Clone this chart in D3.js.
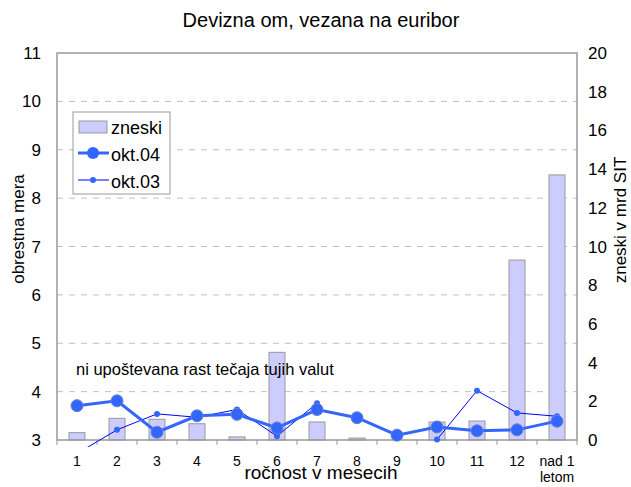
<!DOCTYPE html>
<html>
<head>
<meta charset="utf-8">
<script src="https://cdn.jsdelivr.net/npm/d3@7"></script>
<style>
  body { margin: 0; background: #fff; }
  text { font-family: "Liberation Sans", Arial, sans-serif; fill: #000; }
</style>
</head>
<body>
<svg id="chart" width="631" height="487"></svg>
<script>
const CATEGORIES = ['1', '2', '3', '4', '5', '6', '7', '8', '9', '10', '11', '12', 'nad 1|letom'];
const ZNESKI = [0.38, 1.12, 1.07, 0.84, 0.16, 4.53, 0.93, 0.1, 0, 0.93, 0.98, 9.3, 13.7];
const OKT04 = [3.71, 3.81, 3.16, 3.50, 3.53, 3.25, 3.63, 3.46, 3.10, 3.27, 3.19, 3.21, 3.39];
const OKT03 = [2.72, 3.21, 3.54, 3.47, 3.63, 3.08, 3.76, null, null, 3.01, 4.02, 3.56, 3.49];
const LEFT_TICKS = [3, 4, 5, 6, 7, 8, 9, 10, 11];
const RIGHT_TICKS = [0, 2, 4, 6, 8, 10, 12, 14, 16, 18, 20];

const M = { left: 57, right: 577, top: 53, bottom: 440 };

const svg = d3.select('#chart');

const x = d3.scaleBand()
  .domain(CATEGORIES)
  .range([M.left, M.right]);

const yL = d3.scaleLinear().domain([3, 11]).range([M.bottom, M.top]);
const yR = d3.scaleLinear().domain([0, 20]).range([M.bottom, M.top]);

// title
svg.append('text')
  .attr('x', 321).attr('y', 27)
  .attr('text-anchor', 'middle')
  .style('font-size', '20px')
  .text('Devizna om, vezana na euribor');

// gridlines (left axis)
svg.append('g')
  .selectAll('line')
  .data(LEFT_TICKS.slice(1, -1))
  .enter()
  .append('line')
  .attr('x1', M.left).attr('x2', M.right)
  .attr('y1', d => yL(d)).attr('y2', d => yL(d))
  .attr('stroke', '#c0c0c0')
  .attr('stroke-dasharray', '6,6');

// bars
const barW = 16;
svg.append('g')
  .selectAll('rect')
  .data(ZNESKI)
  .enter()
  .append('rect')
  .attr('x', (d, i) => x(CATEGORIES[i]) + x.bandwidth() / 2 - barW / 2)
  .attr('y', d => yR(d))
  .attr('width', barW)
  .attr('height', d => M.bottom - yR(d))
  .attr('fill', d => d > 0 ? '#ccccff' : 'none')
  .attr('stroke', d => d > 0 ? '#999999' : 'none')
  .attr('stroke-width', 1);

// annotation
svg.append('text')
  .attr('x', 76).attr('y', 375)
  .style('font-size', '16.5px')
  .text('ni upoštevana rast tečaja tujih valut');

// frame
svg.append('rect')
  .attr('x', M.left).attr('y', M.top)
  .attr('width', M.right - M.left).attr('height', M.bottom - M.top)
  .attr('fill', 'none')
  .attr('stroke', '#999999')
  .attr('stroke-width', 1.5);

// x ticks between categories
svg.append('g')
  .selectAll('line')
  .data(CATEGORIES)
  .enter()
  .append('line')
  .attr('x1', d => x(d)).attr('x2', d => x(d))
  .attr('y1', M.bottom).attr('y2', M.bottom + 5)
  .attr('stroke', '#999999');
svg.append('line')
  .attr('x1', M.right).attr('x2', M.right)
  .attr('y1', M.bottom).attr('y2', M.bottom + 5)
  .attr('stroke', '#999999');

// clip for lines (the reference lets the line go a little below the axis)
svg.append('clipPath').attr('id', 'clip')
  .append('rect')
  .attr('x', M.left).attr('y', M.top)
  .attr('width', M.right - M.left).attr('height', M.bottom - M.top + 7);

const cx = i => x(CATEGORIES[i]) + x.bandwidth() / 2;

// okt.03 thin line
const line03 = d3.line()
  .defined(d => d != null)
  .x((d, i) => cx(i))
  .y(d => yL(d));
const g03 = svg.append('g').attr('clip-path', 'url(#clip)');
g03.append('path')
  .attr('d', line03(OKT03))
  .attr('fill', 'none')
  .attr('stroke', '#0000ff')
  .attr('stroke-width', 1);

// okt.04 thick line
const line04 = d3.line()
  .x((d, i) => cx(i))
  .y(d => yL(d));
svg.append('path')
  .attr('d', line04(OKT04))
  .attr('fill', 'none')
  .attr('stroke', '#3366ff')
  .attr('stroke-width', 3);

svg.append('g')
  .selectAll('circle')
  .data(OKT04)
  .enter()
  .append('circle')
  .attr('cx', (d, i) => cx(i))
  .attr('cy', d => yL(d))
  .attr('r', 6)
  .attr('fill', '#3366ff')
  .attr('stroke', '#6680cc')
  .attr('stroke-width', 1);

g03.selectAll('circle')
  .data(OKT03.map((v, i) => ({ v, i })).filter(d => d.v != null && d.v >= 3))
  .enter()
  .append('circle')
  .attr('cx', d => cx(d.i))
  .attr('cy', d => yL(d.v))
  .attr('r', 3)
  .attr('fill', '#3366ff');

// left axis labels
svg.append('g')
  .selectAll('text')
  .data(LEFT_TICKS)
  .enter()
  .append('text')
  .attr('x', 41).attr('y', d => yL(d) + 6)
  .attr('text-anchor', 'end')
  .style('font-size', '17px')
  .text(d => d);

// right axis labels
svg.append('g')
  .selectAll('text')
  .data(RIGHT_TICKS)
  .enter()
  .append('text')
  .attr('x', 588).attr('y', d => yR(d) + 6)
  .style('font-size', '17px')
  .text(d => d);

// x labels
const xl = svg.append('g')
  .selectAll('text')
  .data(CATEGORIES)
  .enter()
  .append('text')
  .attr('x', d => x(d) + x.bandwidth() / 2)
  .attr('y', 466)
  .attr('text-anchor', 'middle')
  .style('font-size', '14px');
xl.each(function (d) {
  const parts = d.split('|');
  d3.select(this).selectAll('tspan')
    .data(parts)
    .enter()
    .append('tspan')
    .attr('x', x(d) + x.bandwidth() / 2)
    .attr('dy', (p, j) => j === 0 ? 0 : 16)
    .text(p => p);
});

// axis titles
svg.append('text')
  .attr('x', 321).attr('y', 479)
  .attr('text-anchor', 'middle')
  .style('font-size', '19px')
  .text('ročnost v mesecih');

svg.append('text')
  .attr('transform', 'translate(24,229) rotate(-90)')
  .attr('text-anchor', 'middle')
  .style('font-size', '17px')
  .text('obrestna mera');

svg.append('text')
  .attr('transform', 'translate(626,220) rotate(-90)')
  .attr('text-anchor', 'middle')
  .style('font-size', '17px')
  .text('zneski v mrd SIT');

// legend
const lg = svg.append('g');
lg.append('rect')
  .attr('x', 73).attr('y', 112)
  .attr('width', 97).attr('height', 82)
  .attr('fill', '#fff')
  .attr('stroke', '#999999');
lg.append('rect')
  .attr('x', 79).attr('y', 121)
  .attr('width', 28).attr('height', 12)
  .attr('fill', '#ccccff').attr('stroke', '#999999');
lg.append('line')
  .attr('x1', 78).attr('x2', 109).attr('y1', 153).attr('y2', 153)
  .attr('stroke', '#3366ff').attr('stroke-width', 3);
lg.append('circle')
  .attr('cx', 93).attr('cy', 153).attr('r', 6)
  .attr('fill', '#3366ff');
lg.append('line')
  .attr('x1', 78).attr('x2', 109).attr('y1', 180).attr('y2', 180)
  .attr('stroke', '#0000ff').attr('stroke-width', 1);
lg.append('circle')
  .attr('cx', 93).attr('cy', 180).attr('r', 3)
  .attr('fill', '#3366ff');
lg.selectAll('text.lab')
  .data(['zneski', 'okt.04', 'okt.03'])
  .enter()
  .append('text')
  .attr('x', 111)
  .attr('y', (d, i) => 134 + i * 27)
  .style('font-size', '18px')
  .text(d => d);
</script>
</body>
</html>
